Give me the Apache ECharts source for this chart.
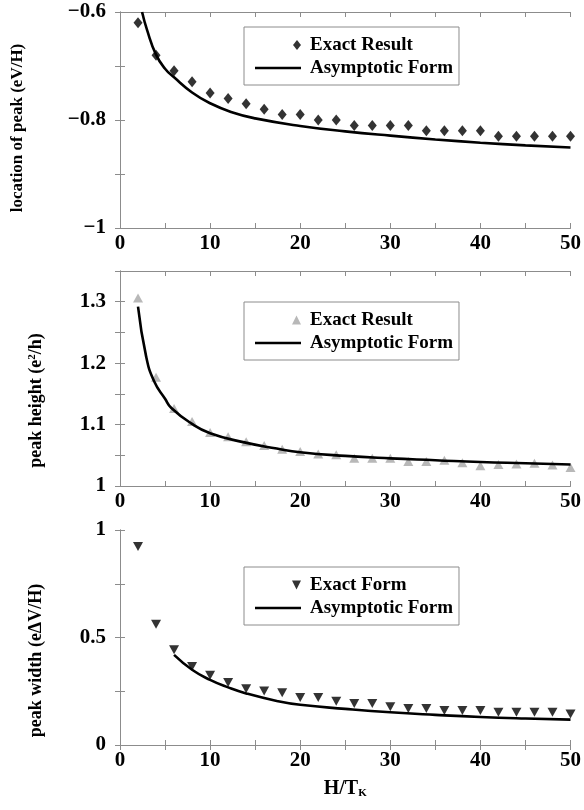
<!DOCTYPE html>
<html>
<head>
<meta charset="utf-8">
<script src="https://cdn.jsdelivr.net/npm/echarts@6/dist/echarts.min.js"></script>
<style>
  html, body { margin: 0; padding: 0; background: #fff; }
  #peaks { width: 584px; height: 810px; }
</style>
</head>
<body>
<div id="peaks"></div>
<script>
// H/T_K values of the exact points
const hx = [2, 4, 6, 8, 10, 12, 14, 16, 18, 20, 22, 24, 26, 28, 30, 32, 34, 36, 38, 40, 42, 44, 46, 48, 50];

// panel 1: location of peak
const locExact = [-0.620, -0.680, -0.709, -0.729, -0.750, -0.760, -0.770, -0.780, -0.790, -0.790, -0.800, -0.800, -0.810,
  -0.810, -0.810, -0.810, -0.820, -0.820, -0.820, -0.820, -0.830, -0.830, -0.830, -0.830, -0.830];
const locAsymX = [2.45, 3, 4, 5, 6, 8, 10, 12.5, 15, 20, 25, 30, 35, 40, 45, 50];
const locAsymY = [-0.600, -0.633, -0.679, -0.705, -0.721, -0.749, -0.769, -0.786, -0.797, -0.811, -0.821, -0.829, -0.836,
  -0.842, -0.847, -0.851];

// panel 2: peak height
const heightExact = [1.306, 1.177, 1.126, 1.105, 1.087, 1.080, 1.072, 1.066, 1.060, 1.056, 1.052, 1.051, 1.045,
  1.045, 1.045, 1.040, 1.040, 1.042, 1.038, 1.033, 1.035, 1.036, 1.037, 1.034, 1.030];
const heightAsymX = [2, 2.9, 3.8, 5, 5.7, 7.9, 10, 13.8, 17.4, 20, 25, 30, 35, 40, 45, 50];
const heightAsymY = [1.292, 1.211, 1.170, 1.142, 1.127, 1.102, 1.086, 1.071, 1.061, 1.055, 1.049, 1.045, 1.042,
  1.039, 1.037, 1.035];

// panel 3: peak width
const widthExact = [0.923, 0.562, 0.443, 0.365, 0.324, 0.291, 0.262, 0.251, 0.243, 0.221, 0.221, 0.203, 0.193,
  0.193, 0.178, 0.170, 0.170, 0.161, 0.161, 0.161, 0.152, 0.152, 0.152, 0.152, 0.144];
const widthAsymX = [6, 8, 10, 12, 14, 17.4, 20, 25, 30, 35, 40, 45, 50];
const widthAsymY = [0.419, 0.350, 0.303, 0.268, 0.240, 0.205, 0.187, 0.168, 0.152, 0.140, 0.130, 0.123, 0.118];

const xLabels = ['0', '10', '20', '30', '40', '50'];
const locLabels = ['−1', '−0.8', '−0.6'];
const heightLabels = ['1', '1.1', '1.2', '1.3'];
const widthLabels = ['0', '0.5', '1'];

let myChart = echarts.init(document.getElementById('peaks'));

const serif = 'Liberation Serif, Times New Roman, serif';
const frame = '#8c8c8c';

function pairs(xs, ys) {
  return xs.map(function (x, i) { return [x, ys[i]]; });
}

// tick labels only where the picture has them
function pick(list) {
  return function (v) {
    let s = v < 0 ? '−' + Math.abs(+v.toFixed(3)) : String(+v.toFixed(3));
    return list.indexOf(s) >= 0 ? s : '';
  };
}

function xAxes(gi, withName) {
  let base = {
    gridIndex: gi, type: 'value', min: 0, max: 50, interval: 5,
    axisLine: { lineStyle: { color: frame, width: 1 } },
    axisTick: { inside: true, length: 5, lineStyle: { color: frame } },
    splitLine: { show: false }
  };
  let bottom = Object.assign({}, base, {
    position: 'bottom',
    axisLabel: { formatter: pick(xLabels), margin: 5, color: '#000', fontFamily: serif, fontWeight: 'bold', fontSize: 21 }
  });
  if (withName) {
    bottom.name = '{a|H/T}{k|K}';
    bottom.nameLocation = 'middle';
    bottom.nameGap = 34;
    bottom.nameTextStyle = {
      rich: {
        a: { fontFamily: serif, fontWeight: 'bold', fontSize: 20, color: '#000' },
        k: { fontFamily: serif, fontWeight: 'bold', fontSize: 11, color: '#000', verticalAlign: 'bottom', padding: [8, 0, 0, 0] }
      }
    };
  }
  let top = Object.assign({}, base, { position: 'top', axisLabel: { show: false } });
  return [bottom, top];
}

function yAxes(gi, min, max, interval, labels, name, gap, shift, size) {
  let base = {
    gridIndex: gi, type: 'value', min: min, max: max, interval: interval,
    axisLine: { show: true, lineStyle: { color: frame, width: 1 } },
    axisTick: { show: true, inside: true, length: 5, lineStyle: { color: frame } },
    splitLine: { show: false }
  };
  let left = Object.assign({}, base, {
    position: 'left',
    name: name,
    nameLocation: 'middle',
    nameGap: gap,
    nameTextStyle: {
      padding: [0, shift, 0, 0],
      rich: {
        a: { fontFamily: serif, fontWeight: 'bold', fontSize: size, color: '#000' },
        s: { fontFamily: serif, fontWeight: 'bold', fontSize: 11, color: '#000', verticalAlign: 'top', padding: [0, 0, 7, 0] }
      }
    },
    axisLabel: { formatter: pick(labels), margin: 14, color: '#000', fontFamily: serif, fontWeight: 'bold', fontSize: 21 }
  });
  let right = Object.assign({}, base, { position: 'right', axisLabel: { show: false } });
  return [left, right];
}

const diamondIcon = 'path://M0,5 M38,5 L42,0 L46,5 L42,10 Z';
const upIcon = 'path://M0,5 M37,10 L41.5,1 L46,10 Z';
const downIcon = 'path://M0,5 M37,1 L46,1 L41.5,10 Z';
const lineIcon = 'path://M0,0 M0,10 M0,3.7 L46,3.7 L46,6.3 L0,6.3 Z';

function legendBox(top, first, icon, lineName) {
  return {
    left: 244, top: top, orient: 'vertical',
    padding: [8, 6, 7, 11], itemGap: 3, itemWidth: 46, itemHeight: 10,
    borderColor: frame, borderWidth: 1, borderRadius: 0,
    selectedMode: false,
    formatter: function (n) { return n.split('#')[0]; },
    textStyle: { fontFamily: serif, fontWeight: 'bold', fontSize: 19, lineHeight: 20, color: '#000', padding: [0, 0, 0, 4] },
    data: [{ name: first, icon: icon }, { name: lineName, icon: lineIcon }]
  };
}

let option = {
  animation: false,
  grid: [
    { left: 120, right: 11, top: 12, height: 216 },
    { left: 120, right: 11, top: 271, height: 215 },
    { left: 120, right: 11, top: 530, height: 215 }
  ],
  xAxis: [].concat(xAxes(0, false), xAxes(1, false), xAxes(2, true)),
  yAxis: [].concat(
    yAxes(0, -1, -0.6, 0.1, locLabels, '{a|location of peak (eV/H)}', 94, 16, 17),
    yAxes(1, 1, 1.35, 0.05, heightLabels, '{a|peak height (e}{s|2}{a|/h)}', 75, 44, 18),
    yAxes(2, 0, 1, 0.25, widthLabels, '{a|peak width (eΔV/H)}', 75, 46, 18)
  ),
  legend: [
    legendBox(27, 'Exact Result#1', diamondIcon, 'Asymptotic Form#1'),
    legendBox(302, 'Exact Result#2', upIcon, 'Asymptotic Form#2'),
    legendBox(567, 'Exact Form#3', downIcon, 'Asymptotic Form#3')
  ],
  series: [
    {
      name: 'Exact Result#1', type: 'scatter', xAxisIndex: 0, yAxisIndex: 0,
      symbol: 'diamond', symbolSize: [9, 11], itemStyle: { color: '#000' },
      data: pairs(hx, locExact)
    },
    {
      name: 'Asymptotic Form#1', type: 'line', xAxisIndex: 0, yAxisIndex: 0,
      smooth: true, symbol: 'none', lineStyle: { color: '#000', width: 2.6 }, itemStyle: { color: '#000' },
      data: pairs(locAsymX, locAsymY)
    },
    {
      name: 'Exact Result#2', type: 'scatter', xAxisIndex: 2, yAxisIndex: 2,
      symbol: 'triangle', symbolSize: [10, 9], itemStyle: { color: '#a6a6a6' },
      data: pairs(hx, heightExact)
    },
    {
      name: 'Asymptotic Form#2', type: 'line', xAxisIndex: 2, yAxisIndex: 2,
      smooth: true, symbol: 'none', lineStyle: { color: '#000', width: 2.6 }, itemStyle: { color: '#000' },
      data: pairs(heightAsymX, heightAsymY)
    },
    {
      name: 'Exact Form#3', type: 'scatter', xAxisIndex: 4, yAxisIndex: 4,
      symbol: 'triangle', symbolRotate: 180, symbolSize: [10, 9], itemStyle: { color: '#000' },
      data: pairs(hx, widthExact)
    },
    {
      name: 'Asymptotic Form#3', type: 'line', xAxisIndex: 4, yAxisIndex: 4,
      smooth: true, symbol: 'none', lineStyle: { color: '#000', width: 2.6 }, itemStyle: { color: '#000' },
      data: pairs(widthAsymX, widthAsymY)
    }
  ]
};
myChart.setOption(option);

window.addEventListener('resize', function () {
  myChart.resize();
});
</script>
</body>
</html>
